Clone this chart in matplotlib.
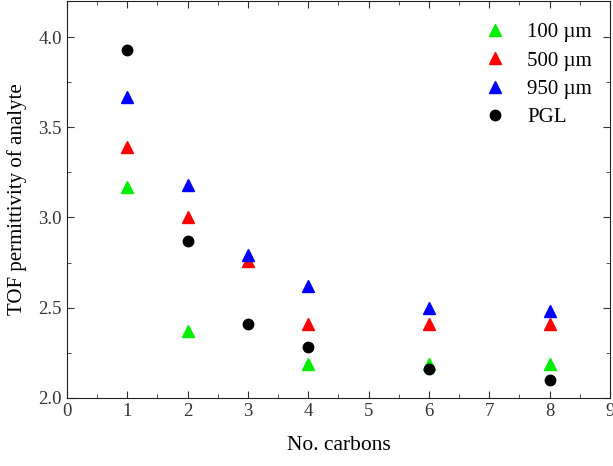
import matplotlib.pyplot as plt
from matplotlib.ticker import MultipleLocator

plt.rcParams['font.family'] = ['Liberation Serif', 'DejaVu Serif']

carbons = [1, 2, 3, 4, 6, 8]
um100 = [3.17, 2.37, None, 2.19, 2.19, 2.19]
um500 = [3.39, 3.00, 2.76, 2.41, 2.41, 2.41]
um950 = [3.67, 3.18, 2.79, 2.62, 2.50, 2.48]
pgl = [3.93, 2.87, 2.41, 2.28, 2.16, 2.10]

fig = plt.figure(figsize=(6.13, 4.66), dpi=100)
ax = fig.add_axes([0.109, 0.146, 0.886, 0.852])

x100 = [c for c, v in zip(carbons, um100) if v is not None]
y100 = [v for v in um100 if v is not None]
ax.plot(x100, y100, '^', color='#00ee00', ms=8, ls='none', label='100 \u00b5m')
ax.plot(carbons, um500, '^', color='#ff0000', ms=8, ls='none', label='500 \u00b5m')
ax.plot(carbons, um950, '^', color='#0000ff', ms=8, ls='none', label='950 \u00b5m')
ax.plot(carbons, pgl, 'o', color='black', ms=7.5, ls='none', label='PGL')

ax.set_xlim(0, 9)
ax.set_ylim(2.0, 4.2)
ax.xaxis.set_major_locator(MultipleLocator(1))
ax.xaxis.set_minor_locator(MultipleLocator(0.5))
ax.yaxis.set_major_locator(MultipleLocator(0.5))
ax.yaxis.set_minor_locator(MultipleLocator(0.25))
ax.yaxis.set_major_formatter(plt.FormatStrFormatter('%.1f'))
ax.tick_params(which='both', direction='in', top=True, right=True, labelsize=13.5, colors='#333333')
ax.tick_params(which='major', length=5)
ax.tick_params(which='minor', length=3)
for s in ax.spines.values():
    s.set_color('#222222')

ax.set_xlabel('No. carbons', fontsize=15.5, labelpad=12)
ax.set_ylabel('TOF permittivity of analyte', fontsize=15, labelpad=8)
ax.legend(loc='upper right', bbox_to_anchor=(1.0, 0.99), frameon=False, fontsize=15,
          handletextpad=1.0, borderaxespad=0.45, labelspacing=0.42, handlelength=1.1)

fig.savefig('out.png', dpi=100)
